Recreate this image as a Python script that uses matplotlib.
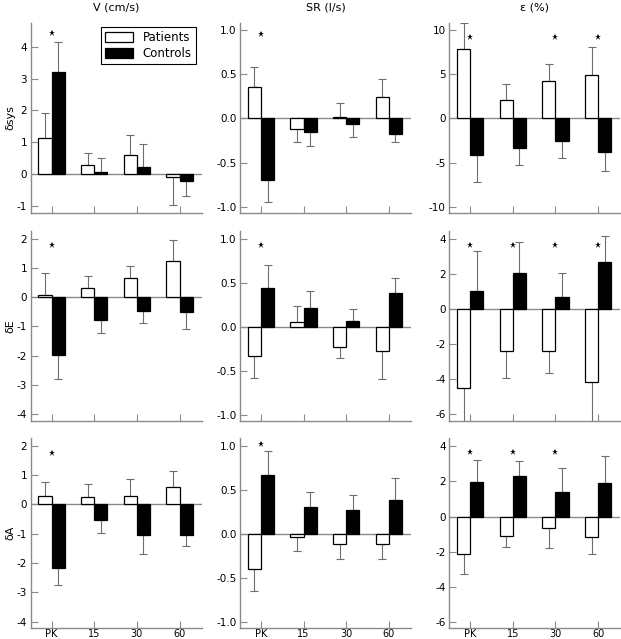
import matplotlib
matplotlib.use("Agg")
import matplotlib.pyplot as plt
import numpy as np

plt.rcParams['font.family'] = ['DejaVu Sans']

categories = ['PK', '15', '30', '60']
col_titles = ['V (cm/s)', 'SR (l/s)', 'ε (%)']
row_labels = ['δsys', 'δE', 'δA']

# patients / controls means and the end of their error bars, [row][col]
patients = [
    [[1.13, 0.28, 0.61, -0.09], [0.36, -0.125, 0.015, 0.24], [7.83, 2.08, 4.27, 4.88]],
    [[0.08, 0.31, 0.66, 1.23], [-0.335, 0.06, -0.234, -0.279], [-4.52, -2.40, -2.40, -4.18]],
    [[0.27, 0.26, 0.29, 0.60], [-0.40, -0.034, -0.114, -0.114], [-2.16, -1.10, -0.68, -1.14]],
]
patients_err = [
    [[1.91, 0.66, 1.22, -0.99], [0.585, -0.264, 0.174, 0.45], [10.77, 3.86, 6.12, 8.09]],
    [[0.82, 0.73, 1.05, 1.94], [-0.585, 0.234, -0.358, -0.59], [-6.6, -3.91, -3.67, -6.6]],
    [[0.77, 0.68, 0.87, 1.15], [-0.65, -0.186, -0.28, -0.28], [-3.28, -1.76, -1.80, -2.13]],
]
controls = [
    [[3.20, 0.06, 0.22, -0.21], [-0.70, -0.158, -0.06, -0.174], [-4.16, -3.36, -2.57, -3.78]],
    [[-1.97, -0.78, -0.47, -0.51], [0.444, 0.211, 0.072, 0.39], [1.04, 2.08, 0.68, 2.68]],
    [[-2.17, -0.54, -1.05, -1.03], [0.67, 0.307, 0.273, 0.394], [1.95, 2.33, 1.40, 1.92]],
]
controls_err = [
    [[4.14, 0.49, 0.93, -0.71], [-0.95, -0.317, -0.215, -0.264], [-7.18, -5.25, -4.50, -5.97]],
    [[-2.80, -1.22, -0.90, -1.10], [0.70, 0.407, 0.207, 0.557], [3.31, 3.82, 2.06, 4.16]],
    [[-2.74, -0.98, -1.69, -1.42], [0.95, 0.48, 0.443, 0.636], [3.23, 3.17, 2.77, 3.47]],
]
# significance stars
stars = [
    [[1, 0, 0, 0], [1, 0, 0, 0], [1, 0, 1, 1]],
    [[1, 0, 0, 0], [1, 0, 0, 0], [1, 1, 1, 1]],
    [[1, 0, 0, 0], [1, 0, 0, 0], [1, 1, 1, 0]],
]
star_y = [
    [4.42, 0.96, 9.26],
    [1.77, 0.93, 3.65],
    [1.76, 1.02, 3.66],
]
ylims = [
    [(-1.23, 4.75), (-1.07, 1.08), (-10.7, 10.8)],
    [(-4.24, 2.26), (-1.07, 1.09), (-6.38, 4.45)],
    [(-4.22, 2.25), (-1.07, 1.09), (-6.37, 4.46)],
]
yticks = [
    [np.arange(-1, 5, 1), np.arange(-1, 1.01, 0.5), np.arange(-10, 11, 5)],
    [np.arange(-4, 3, 1), np.arange(-1, 1.01, 0.5), np.arange(-6, 5, 2)],
    [np.arange(-4, 3, 1), np.arange(-1, 1.01, 0.5), np.arange(-6, 5, 2)],
]

GRAY = '#8a8a8a'
EGRAY = '#6e6e6e'

fig = plt.figure(figsize=(6.21, 6.39), dpi=100)
lefts = [30.7 / 621, 240 / 621, 449.3 / 621]
bottoms = [1 - 213 / 639, 1 - 421 / 639, 1 - 628.3 / 639]
w = 171 / 621
h = 190 / 639
bw = 0.31
x = np.arange(len(categories))


def draw_err(ax, xs, vals, ends):
    vals = np.array(vals)
    ends = np.array(ends)
    lower = np.where(ends < vals, vals - ends, 0)
    upper = np.where(ends > vals, ends - vals, 0)
    # only one side per bar
    for xi, v, lo, up in zip(xs, vals, lower, upper):
        yerr = [[lo], [up]]
        ax.errorbar([xi], [v], yerr=yerr, fmt='none', ecolor=EGRAY,
                    elinewidth=0.8, capsize=3.2, capthick=0.8, zorder=1)


for r in range(3):
    for c in range(3):
        ax = fig.add_axes([lefts[c], bottoms[r], w, h])
        ax.axhline(0, color=GRAY, lw=1, zorder=0)
        draw_err(ax, x - bw / 2, patients[r][c], patients_err[r][c])
        draw_err(ax, x + bw / 2, controls[r][c], controls_err[r][c])
        ax.bar(x, patients[r][c], width=-bw, align='edge', color='white',
               edgecolor='black', lw=0.9, label='Patients', zorder=2)
        ax.bar(x, controls[r][c], width=bw, align='edge', color='black',
               edgecolor='black', lw=0.9, label='Controls', zorder=2)
        sx = [xi for xi, s in zip(x, stars[r][c]) if s]
        ax.plot(sx, [star_y[r][c]] * len(sx), '*', color='black', ms=4.5,
                mew=0, zorder=3)

        ax.set_xlim(-0.49, 3.52)
        ax.set_ylim(*ylims[r][c])
        ax.set_yticks(yticks[r][c])
        if c == 1:
            ax.set_yticklabels([f'{v:.1f}' for v in yticks[r][c]])
        else:
            ax.set_yticklabels([f'{int(v)}' for v in yticks[r][c]])
        ax.set_xticks(x)
        if r == 2:
            ax.set_xticklabels(categories)
        else:
            ax.set_xticklabels([])
        ax.tick_params(direction='in', length=5, width=0.8, color=GRAY,
                       labelsize=7.5, pad=2.5)
        ax.tick_params(axis='x', labelsize=7, pad=0.8)
        for side in ['top', 'right']:
            ax.spines[side].set_visible(False)
        for side in ['left', 'bottom']:
            ax.spines[side].set_color(GRAY)
            ax.spines[side].set_linewidth(1)
        if r == 0:
            ax.set_title(col_titles[c], fontsize=8, pad=9)
        if c == 0:
            ax.set_ylabel(row_labels[r], fontsize=8, labelpad=1)
        if r == 0 and c == 0:
            leg = ax.legend(loc='upper right', bbox_to_anchor=(0.965, 0.98),
                            fontsize=8.5, fancybox=False, framealpha=1,
                            edgecolor='black', handlelength=2.4,
                            handleheight=1.0, borderpad=0.35,
                            labelspacing=0.25, handletextpad=0.8,
                            borderaxespad=0)
            leg.get_frame().set_linewidth(0.8)

fig.savefig('out.png', dpi=100)
